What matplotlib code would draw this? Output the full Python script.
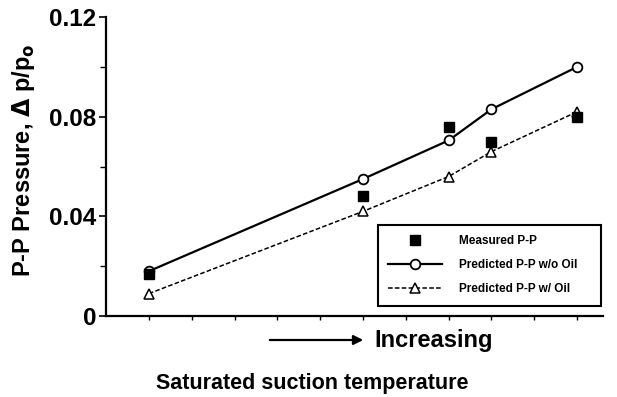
import matplotlib
matplotlib.use('Agg')
import matplotlib.pyplot as plt

plt.rcParams['font.family'] = ['Liberation Sans', 'DejaVu Sans']
plt.rcParams['font.weight'] = 'bold'

# data (x in tick positions, no labelled units)
x_pred = [0, 5, 7, 8, 10]
pp_wo_oil = [0.018, 0.055, 0.0705, 0.083, 0.100]
pp_w_oil = [0.009, 0.042, 0.056, 0.066, 0.082]
x_meas = [0, 5, 7, 8, 10]
pp_measured = [0.017, 0.048, 0.076, 0.070, 0.080]

fig = plt.figure(figsize=(6.17, 3.97), dpi=100)
ax = fig.add_axes([0.172, 0.204, 0.805, 0.753])

ax.plot(x_pred, pp_wo_oil, '-', color='black', lw=1.6, marker='o', ms=7,
        mfc='white', mec='black', mew=1.3, label='Predicted P-P w/o Oil', zorder=3)
ax.plot(x_pred, pp_w_oil, '--', color='black', lw=1.1, dashes=(3, 1.5), marker='^',
        ms=7, mfc='white', mec='black', mew=1.1, label='Predicted P-P w/ Oil', zorder=3)
ax.plot(x_meas, pp_measured, 's', color='black', ms=6.5, label='Measured P-P', zorder=4)

ax.set_xlim(-1, 10.6)
ax.set_ylim(0, 0.12)
ax.set_xticks(range(0, 11))
ax.set_xticklabels([])
ax.set_yticks([0, 0.04, 0.08, 0.12])
ax.set_yticklabels(['0', '0.04', '0.08', '0.12'])
ax.set_yticks([0.02, 0.06, 0.10], minor=True)
ax.tick_params(axis='y', which='major', length=5, width=1.2, labelsize=17.5, pad=2)
ax.tick_params(axis='y', which='minor', length=4, width=1.0)
ax.tick_params(axis='x', which='major', length=3, width=1.0)
for s in ['top', 'right']:
    ax.spines[s].set_visible(False)
for s in ['left', 'bottom']:
    ax.spines[s].set_linewidth(1.6)
for lab in ax.get_yticklabels():
    lab.set_fontweight('bold')

ax.set_ylabel(r'P-P Pressure, $\Delta$ p/p$_\mathbf{o}$', fontsize=17,
              fontweight='bold')
ax.yaxis.set_label_coords(-0.14, 0.52)

handles, labels = ax.get_legend_handles_labels()
order = [2, 0, 1]
leg = ax.legend([handles[i] for i in order], [labels[i] for i in order],
                loc='lower left', bbox_to_anchor=(0.535, 0.015, 0.473, 0.29),
                mode='expand', fancybox=False, edgecolor='black', framealpha=1,
                prop={'size': 8.5, 'weight': 'bold'}, handlelength=4.5,
                handletextpad=1.5, labelspacing=1.0, borderpad=0.9)
leg.get_frame().set_linewidth(1.5)

# "Increasing" arrow under the axis
fig.add_artist(matplotlib.patches.FancyArrowPatch(
    (267 / 617, 1 - 340 / 397), (366 / 617, 1 - 340 / 397),
    transform=fig.transFigure, arrowstyle='-|>', mutation_scale=14,
    color='black', lw=1.6))
fig.text(374 / 617, 1 - 340 / 397, 'Increasing', fontsize=17, fontweight='bold',
         ha='left', va='center')
fig.text(312 / 617, 1 - 383 / 397, 'Saturated suction temperature', fontsize=15.5,
         fontweight='bold', ha='center', va='center')

fig.savefig('out.png', dpi=100, facecolor='white')
